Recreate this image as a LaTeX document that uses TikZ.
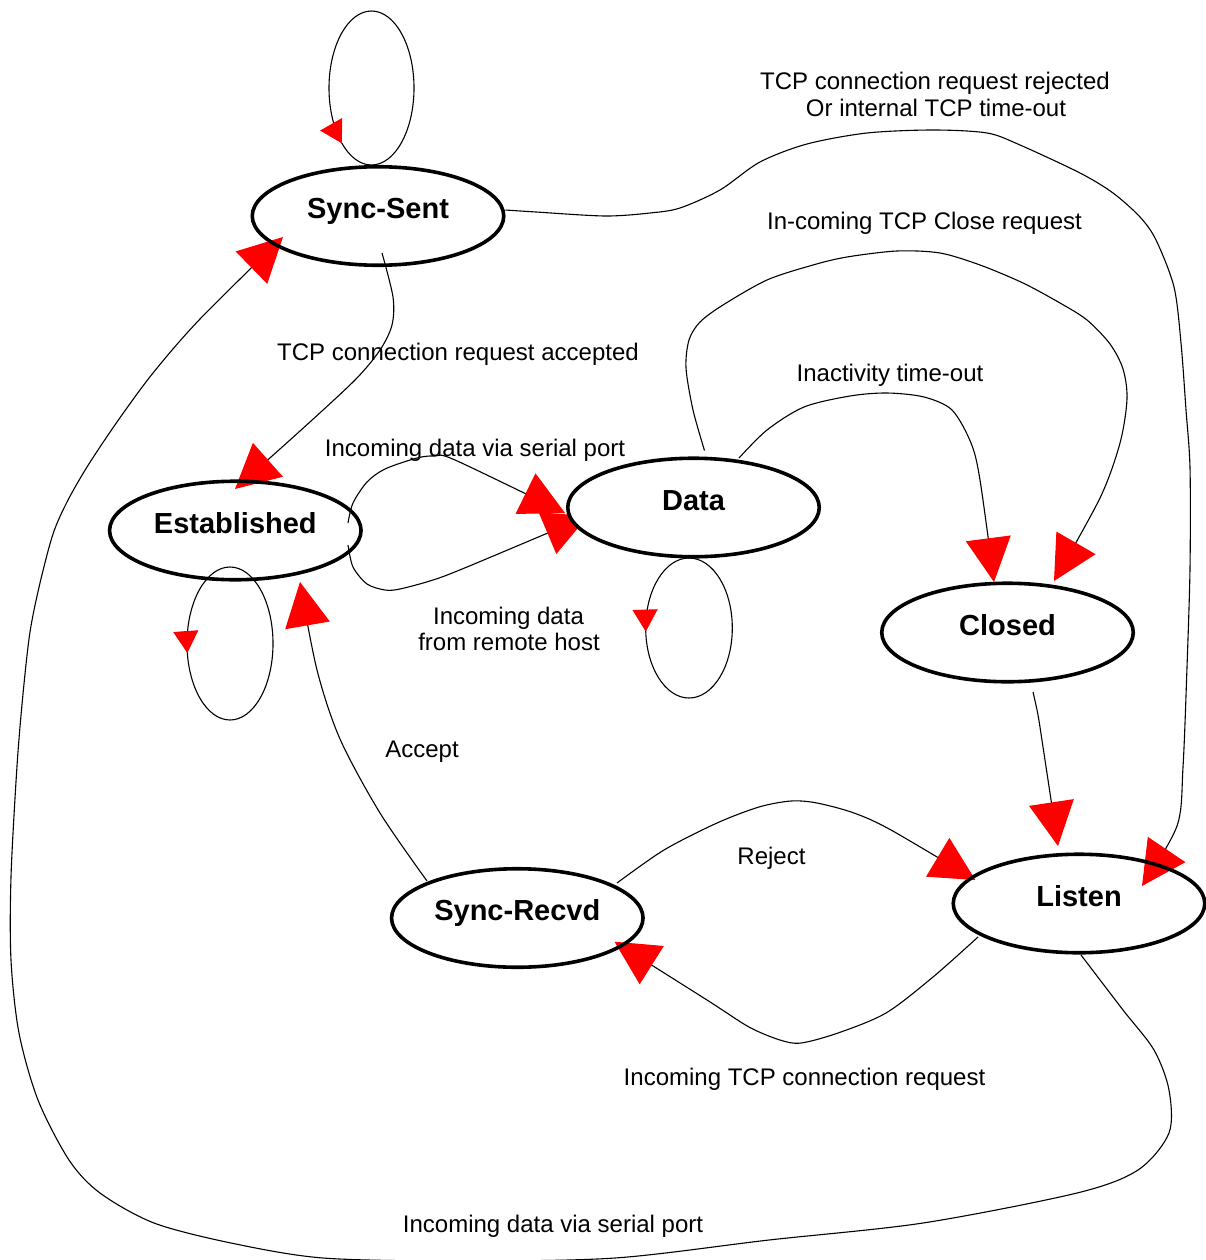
\documentclass[tikz,border=0pt]{standalone}
\usepackage{fontspec}
\setmainfont{Liberation Sans}
\usetikzlibrary{arrows.meta,calc,decorations.markings,shapes.geometric}
\pgfdeclarelayer{bg}
\pgfsetlayers{bg,main}
\begin{document}
\begin{tikzpicture}[x=1pt,y=-1pt,
  state/.style={ellipse, draw, line width=3.6pt, minimum width=251.5pt, minimum height=98.5pt,
    inner sep=0pt, font=\fontsize{29}{32}\selectfont\bfseries, text height=21pt, text depth=16pt},
  lbl/.style={anchor=base, inner sep=0pt, font=\fontsize{24}{27}\selectfont},
  edge/.style={line width=1.1pt, -{Triangle[red,length=44pt,width=45pt]}},
  loopedge/.style={line width=1.1pt, postaction={decorate},
    decoration={markings, mark=at position #1 with {\arrowreversed{Triangle[red,length=22pt,width=25pt]}}}},
  smoothpath/.style={smooth, tension=0.5}]
\useasboundingbox (0,0) rectangle (1206,1260);

% states
\node[state] (ss) at (378,216) {Sync-Sent};
\node[state] (est) at (235.3,530.5) {Established};
\node[state, fill=white] (data) at (693.5,507.5) {Data};
\node[state] (closed) at (1007.5,632.5) {Closed};
\node[state] (sr) at (517.3,918) {Sync-Recvd};
\node[state] (listen) at (1079,903.5) {Listen};

% labels
\node[lbl] (l-rej1) at (935,90) {TCP connection request rejected};
\node[lbl] (l-rej2) at (936,117) {Or internal TCP time-out};
\node[lbl] (l-close) at (924.5,229) {In-coming TCP Close request};
\node[lbl] (l-acc) at (458,360) {TCP connection request accepted};
\node[lbl] (l-inact) at (890,381) {Inactivity time-out};
\node[lbl] (l-ser1) at (475,456) {Incoming data via serial port};
\node[lbl] (l-rem1) at (508.5,624) {Incoming data};
\node[lbl] (l-rem2) at (509,650) {from remote host};
\node[lbl] (l-accept) at (422,757) {Accept};
\node[lbl] (l-reject) at (771.5,864) {Reject};
\node[lbl] (l-req) at (804.5,1085) {Incoming TCP connection request};
\node[lbl] (l-ser2) at (553,1232) {Incoming data via serial port};

\begin{pgfonlayer}{bg}
% self loops
\draw[loopedge=0.35] ($(ss)+(-6.5,-128)$) ellipse [x radius=42.5, y radius=77];
\draw[loopedge=0.475] ($(est)+(-5.3,113)$) ellipse [x radius=43, y radius=76.5];
\draw[loopedge=0.49] ($(data)+(-4.5,120.5)$) ellipse [x radius=43.3, y radius=70];

% Sync-Sent -> Listen
\draw[edge] plot[smoothpath] coordinates {($(ss)+(127.5,-6)$) (536,212) (605,216) (650,213) (680,208) (720,190) (760,162) (807,144) (867,133) (933,130) (987,133) (1020,145) (1080,173) (1113,193) (1140,217) (1156,240) (1174,287) (1181,343) (1186,410) (1190,468) (1190,568) (1187,667) (1183,767) (1177,826) ($(listen)+(63,-17.5)$)};

% Sync-Sent -> Established
\draw[edge] plot[smoothpath] coordinates {($(ss)+(4,37)$) (393,297) (392,325) (380,350) (355,380) (300,431) ($(est)+(-0.3,-41.5)$)};

% Established -> Data (upper)
\draw[edge] plot[smoothpath] coordinates {($(est)+(112.7,-7.5)$) (353,503) (367,482) (385,469) (417,458) (435,456) (455,460) ($(data)+(-128.5,5.5)$)};

% Established -> Data (lower)
\draw[edge] plot[smoothpath] coordinates {($(est)+(112.7,14.5)$) (353,567) (367,584) (385,590) (400,589) (433,580) (467,567) ($(data)+(-105.5,8.5)$)};

% Data -> Closed (inactivity)
\draw[edge] plot[smoothpath] coordinates {($(data)+(45.5,-49.5)$) (767,430) (804,407) (850,396) (887,393) (924,397) (952,410) (971,443) (980,480) ($(closed)+(-13.5,-50.5)$)};

% Data -> Closed (close request)
\draw[edge] plot[smoothpath] coordinates {($(data)+(11,-57)$) (693,410) (686,368) (689,340) (700,322) (723,305) (767,280) (813,265) (847,257) (897,251) (940,253) (980,265) (1023,283) (1060,303) (1087,320) (1110,344) (1123,369) (1127,399) (1120,443) (1100,498) ($(closed)+(46.5,-51.5)$)};

% Closed -> Listen
\draw[edge] plot[smoothpath] coordinates {($(closed)+(25.5,59.5)$) (1038,715) (1043,747) ($(listen)+(-21,-57.5)$)};

% Listen -> Sync-Recvd
\draw[edge] plot[smoothpath] coordinates {($(listen)+(-101,33.5)$) (933,977) (886,1013) (838,1033) (801,1043) (780,1040) (749,1027) (707,1000) ($(sr)+(97.2,23.7)$)};

% Sync-Recvd -> Listen (reject)
\draw[edge] plot[smoothpath] coordinates {($(sr)+(99.7,-35)$) (664,850) (717,823) (759,807) (791,801) (817,803) (854,813) (891,830) ($(listen)+(-103.6,-23.5)$)};

% Sync-Recvd -> Established (accept)
\draw[edge] plot[smoothpath] coordinates {($(sr)+(-90.3,-37)$) (380,813) (340,739) (317,670) ($(est)+(64.7,51.5)$)};

% Listen -> Sync-Sent (outer loop)
\draw[edge] plot[smoothpath] coordinates {($(listen)+(2,51.5)$) (1123,1010) (1154,1050) (1169,1090) (1169,1133) (1138,1170) (1077,1193) (923,1223) (769,1240) (615,1258) (461,1261) (323,1258) (231,1243) (154,1223) (100,1193) (69,1160) (38,1100) (19,1033) (11,960) (11,877) (17,766) (23,694) (30,632) (40,583) (53,534) (67,502) (87,467) (117,422) (153,373) (200,319) ($(ss)+(-95,21)$)};
\end{pgfonlayer}
\end{tikzpicture}
\end{document}
